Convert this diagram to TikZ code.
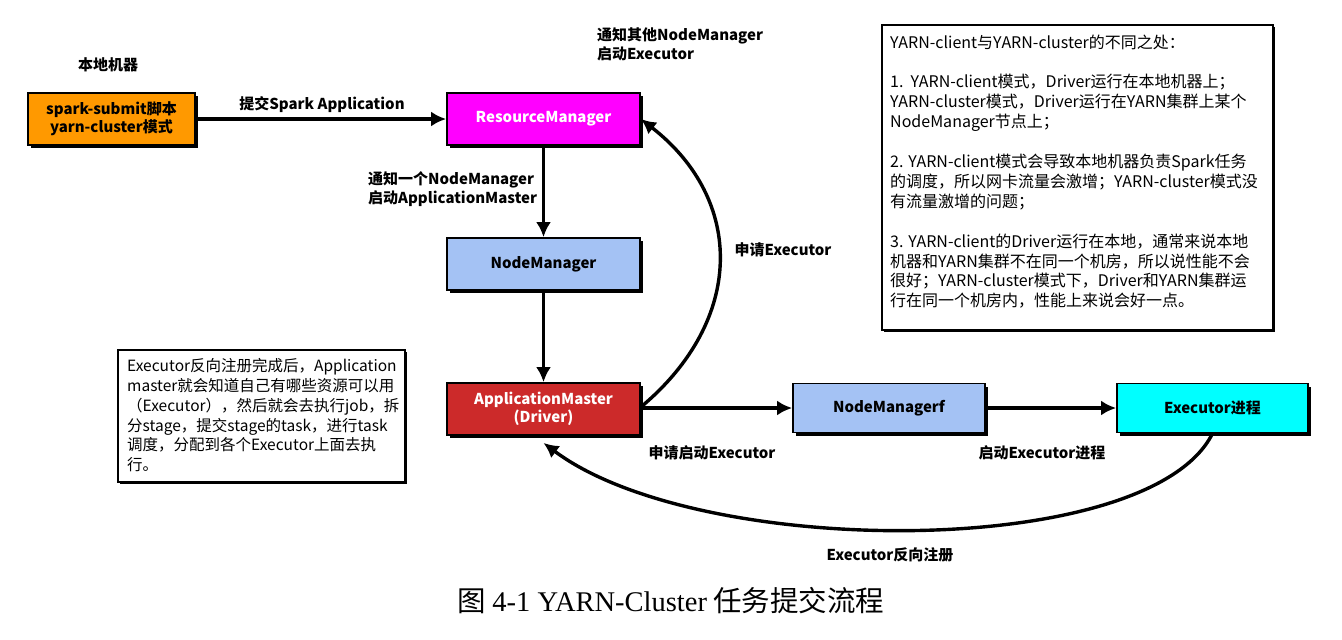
\documentclass[tikz,border=0pt]{standalone}
\usepackage{fontspec}
\setmainfont{Noto Sans CJK SC}
\newfontfamily\capserif{Liberation Serif}
\newfontfamily\cjk{Noto Sans CJK SC}
\usetikzlibrary{arrows.meta,shadows}
\definecolor{cOrange}{HTML}{FF9900}
\definecolor{cMagenta}{HTML}{FF00FF}
\definecolor{cBlue}{HTML}{A4C2F4}
\definecolor{cRed}{HTML}{CC2A2A}
\definecolor{cCyan}{HTML}{00FFFF}
\begin{document}
\begin{tikzpicture}[x=1pt,y=-1pt,
  box/.style={draw=black, line width=1.8pt, minimum width=193pt, minimum height=52pt,
    inner sep=0pt, align=center, font=\bfseries\fontsize{15}{18}\selectfont,
    drop shadow={shadow xshift=3pt, shadow yshift=-3pt, fill=black, opacity=1}},
  notebox/.style={draw=black, fill=white, line width=1.5pt, inner sep=0pt,
    drop shadow={shadow xshift=2pt, shadow yshift=-2pt, fill=black, opacity=1}},
  notetext/.style={inner sep=0pt, align=left, anchor=north west,
    font=\fontsize{16}{19.9}\selectfont},
  lab/.style={inner sep=0pt, align=left, font=\bfseries\fontsize{15}{19}\selectfont},
  arr/.style={line width=3.4pt, -{Latex[length=15pt,width=15pt]}}
]
\useasboundingbox (0,0) rectangle (1342,640);

% boxes
\node[box, fill=cOrange, minimum width=167pt] (spark) at (111.5,119) {spark-submit脚本\\yarn-cluster模式};
\node[box, fill=cMagenta, text=white] (rm) at (543.5,119) {ResourceManager};
\node[box, fill=cBlue] (nm) at (543.5,264) {NodeManager};
\node[box, fill=cRed, text=white] (am) at (543.5,409) {ApplicationMaster\\(Driver)};
\node[box, fill=cBlue, minimum width=192pt, minimum height=49pt] (nmf) at (889,408) {NodeManagerf};
\node[box, fill=cCyan, minimum width=191pt, minimum height=49pt] (exec) at (1212.5,408) {Executor进程};

% straight arrows
\draw[arr] (spark.east) -- (rm.west);
\draw[arr] (rm.south) -- (nm.north);
\draw[arr] (nm.south) -- (am.north);
\draw[arr] (am.east |- nmf.west) -- (nmf.west);
\draw[arr] (nmf.east) -- (exec.west);

% curved arrows
\draw[arr] ([yshift=2pt]am.east) .. controls (745,320) and (745,200) .. (rm.east);
\draw[arr] (exec.south) .. controls (1150,560) and (700,560) .. ([yshift=-7pt]am.south);

% labels
\node[lab] (local) at (108,65) {本地机器};
\node[lab] (l1) at (322,105) {提交Spark Application};
\node[lab, anchor=north west] (l2) at (597,27) {通知其他NodeManager\\启动Executor};
\node[lab, anchor=north west] (l3) at (368,171) {通知一个NodeManager\\启动ApplicationMaster};
\node[lab] (l4) at (783,250) {申请Executor};
\node[lab] (l5) at (712,453) {申请启动Executor};
\node[lab] (l6) at (1042,453) {启动Executor进程};
\node[lab] (l7) at (890,555) {Executor反向注册};

% right note
\node[notebox, minimum width=391pt, minimum height=305pt] (notes) at (1077.5,177.5) {};
\node[notetext] (notestext) at (890,34) {\strut YARN-client与YARN-cluster的不同之处：\\[19.9pt]
1.\ \ YARN-client模式，Driver运行在本地机器上；\\
YARN-cluster模式，Driver运行在YARN集群上某个\\
NodeManager节点上；\\[19.9pt]
2. YARN-client模式会导致本地机器负责Spark任务\\
的调度，所以网卡流量会激增；YARN-cluster模式没\\
有流量激增的问题；\\[19.9pt]
3. YARN-client的Driver运行在本地，通常来说本地\\
机器和YARN集群不在同一个机房，所以说性能不会\\
很好；YARN-cluster模式下，Driver和YARN集群运\\
行在同一个机房内，性能上来说会好一点。};

% left note
\node[notebox, minimum width=287pt, minimum height=132pt] (lnote) at (261.5,416) {};
\node[notetext, font=\fontsize{15.5}{19.7}\selectfont] (lnotetext) at (127,358) {\strut Executor反向注册完成后，Application\\
master就会知道自己有哪些资源可以用\\
（Executor），然后就会去执行job，拆\\
分stage，提交stage的task，进行task\\
调度，分配到各个Executor上面去执\\
行。};

% caption
\node[inner sep=0pt, font=\fontsize{28.5}{31}\selectfont] (caption) at (671,601) {{\cjk 图} {\capserif 4-1 YARN-Cluster} {\cjk 任务提交流程}};
\end{tikzpicture}
\end{document}
